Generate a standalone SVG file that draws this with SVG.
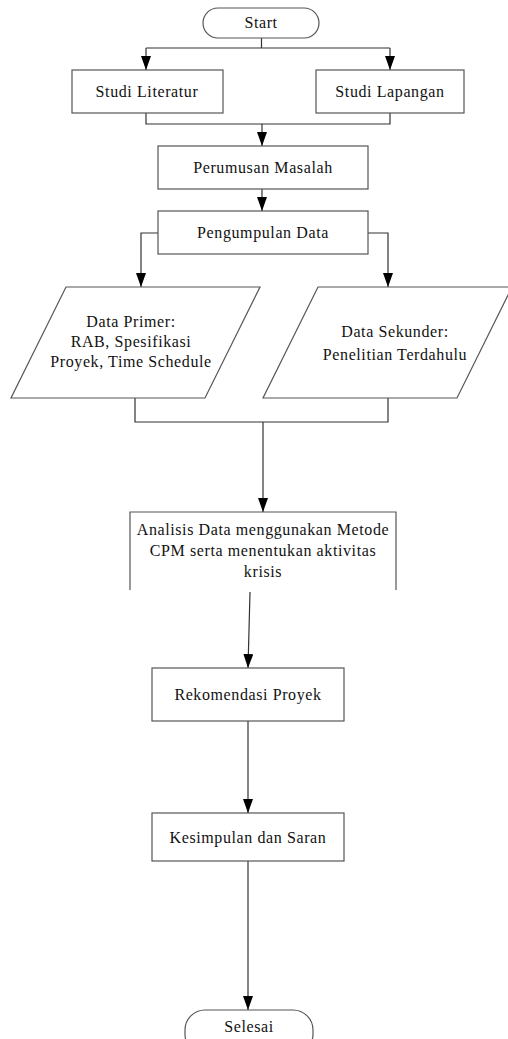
<svg xmlns="http://www.w3.org/2000/svg" width="508" height="1039" viewBox="0 0 508 1039">
<defs>
<marker id="arr" markerWidth="14" markerHeight="10" refX="14" refY="5" orient="auto" markerUnits="userSpaceOnUse" viewBox="0 0 14 10">
<path d="M0,0 L14,5 L0,10 Z" fill="#000"/>
</marker>
<style>
.box{fill:#fff;stroke:#555;stroke-width:1.2}
.ln{fill:none;stroke:#333;stroke-width:1.2}
.t{font-family:"Liberation Serif","Times New Roman",serif;font-size:16px;letter-spacing:0.6px;fill:#111;text-anchor:middle}
</style>
</defs>
<rect width="508" height="1039" fill="#fff"/>
<g id="connectors">
<path class="ln" d="M261.5,38 V48 M146,48 H390"/>
<path class="ln" d="M146,48 V70" marker-end="url(#arr)"/>
<path class="ln" d="M390,48 V70" marker-end="url(#arr)"/>
<path class="ln" d="M146,113 V124 H390 V113"/>
<path class="ln" d="M262,124 V146" marker-end="url(#arr)"/>
<path class="ln" d="M262,189 V211" marker-end="url(#arr)"/>
<path class="ln" d="M158,233 H141 V287" marker-end="url(#arr)"/>
<path class="ln" d="M368,233 H388 V287" marker-end="url(#arr)"/>
<path class="ln" d="M135,398 V422 H388 V398"/>
<path class="ln" d="M263,422 V512" marker-end="url(#arr)"/>
<path class="ln" d="M250,592 L248,668" marker-end="url(#arr)"/>
<path class="ln" d="M248,721 V813" marker-end="url(#arr)"/>
<path class="ln" d="M248,861 V1010" marker-end="url(#arr)"/>
</g>
<g id="start">
<rect class="box" x="203" y="8" width="116" height="30" rx="15" ry="15"/>
<text class="t" x="261" y="28">Start</text>
</g>
<g id="studi-literatur">
<rect class="box" x="72" y="70" width="151" height="43"/>
<text class="t" x="147" y="97">Studi Literatur</text>
</g>
<g id="studi-lapangan">
<rect class="box" x="316" y="70" width="148" height="43"/>
<text class="t" x="390" y="97">Studi Lapangan</text>
</g>
<g id="perumusan">
<rect class="box" x="158" y="146" width="210" height="43"/>
<text class="t" x="263" y="173">Perumusan Masalah</text>
</g>
<g id="pengumpulan">
<rect class="box" x="158" y="211" width="210" height="43"/>
<text class="t" x="263" y="238">Pengumpulan Data</text>
</g>
<g id="data-primer">
<polygon class="box" points="66,287 260,287 205,398 11,398"/>
<text class="t" x="131" y="327">Data Primer:</text>
<text class="t" x="131" y="347">RAB, Spesifikasi</text>
<text class="t" x="131" y="367">Proyek, Time Schedule</text>
</g>
<g id="data-sekunder">
<polygon class="box" points="318,287 512,287 457,398 263,398"/>
<text class="t" x="395" y="337">Data Sekunder:</text>
<text class="t" x="395" y="360">Penelitian Terdahulu</text>
</g>
<g id="analisis">
<path class="box" d="M130,590 V512 H396 V590"/>
<text class="t" x="263" y="535">Analisis Data menggunakan Metode</text>
<text class="t" x="263" y="556">CPM serta menentukan aktivitas</text>
<text class="t" x="263" y="577">krisis</text>
</g>
<g id="rekomendasi">
<rect class="box" x="152" y="668" width="192" height="53"/>
<text class="t" x="248" y="700">Rekomendasi Proyek</text>
</g>
<g id="kesimpulan">
<rect class="box" x="152" y="813" width="192" height="48"/>
<text class="t" x="248" y="843">Kesimpulan dan Saran</text>
</g>
<g id="selesai">
<rect class="box" x="185" y="1010" width="128" height="44" rx="20" ry="20"/>
<text class="t" x="249" y="1032">Selesai</text>
</g>
</svg>
